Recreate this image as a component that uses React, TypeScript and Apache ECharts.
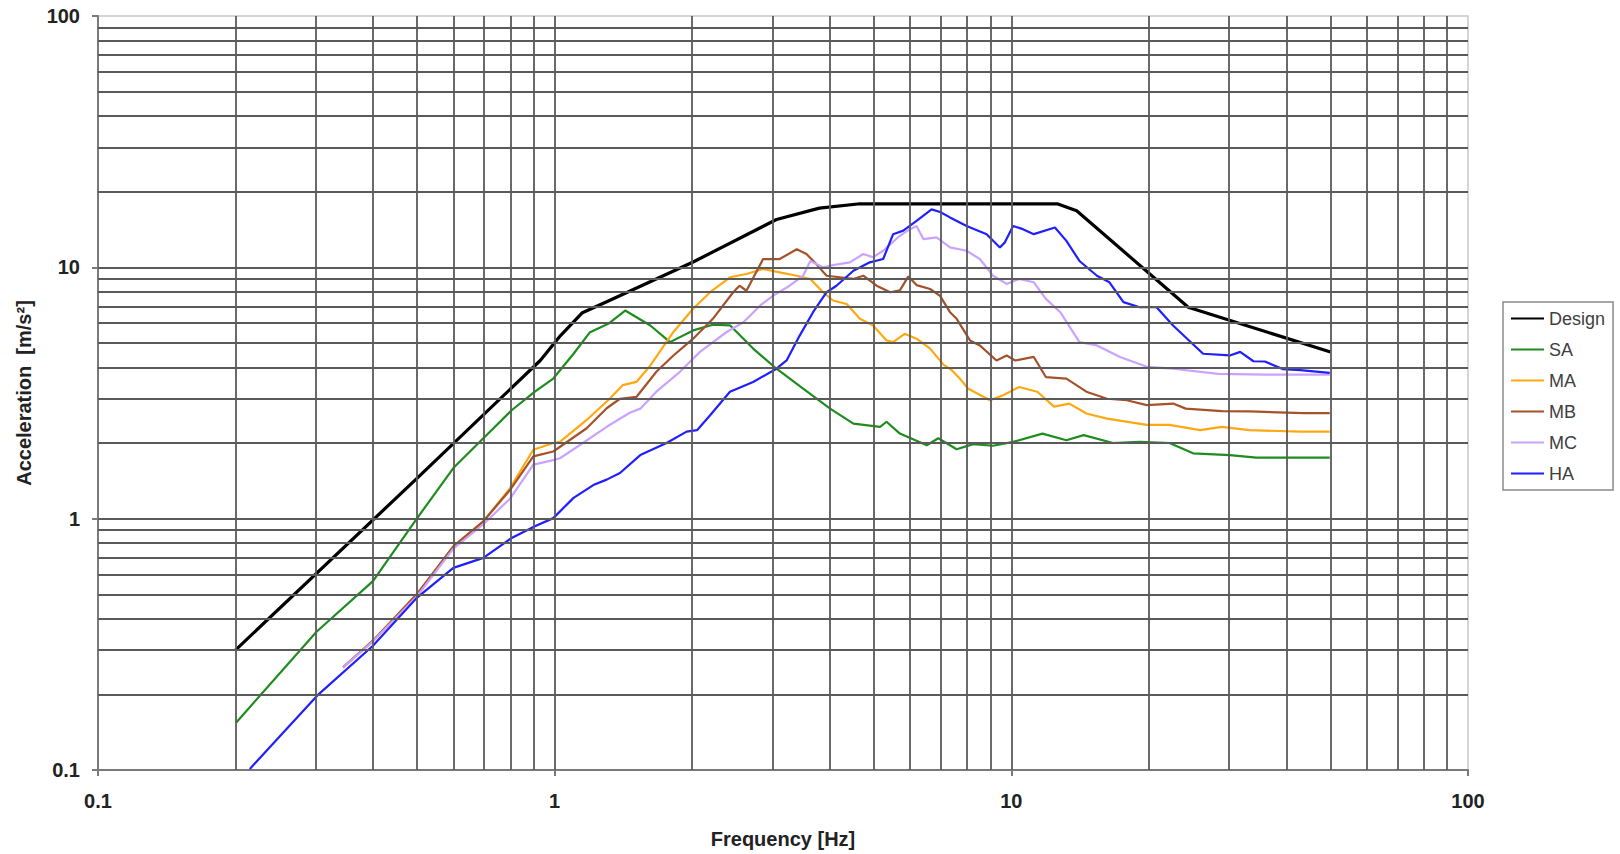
import React, { useEffect, useRef } from "react";
import * as echarts from "echarts";

// Frequency [Hz], Acceleration [m/s²] pairs
const design: [number, number][] = [
  [0.2, 0.3], [0.5, 1.45], [0.93, 4.26], [1.03, 5.35], [1.15, 6.6], [1.3, 7.3],
  [2.01, 10.5], [3.06, 15.5], [3.8, 17.2], [4.66, 17.9], [12.6, 17.9], [13.9, 16.8],
  [24.4, 6.94], [50, 4.6],
];

const sa: [number, number][] = [
  [0.201, 0.155], [0.301, 0.355], [0.4, 0.564], [0.499, 1.0], [0.6, 1.59], [0.698, 2.09],
  [0.805, 2.7], [0.905, 3.2], [0.993, 3.61], [1.1, 4.53], [1.195, 5.52], [1.31, 5.96],
  [1.427, 6.73], [1.62, 5.87], [1.789, 5.04], [2.01, 5.61], [2.22, 5.91], [2.42, 5.88],
  [2.72, 4.75], [3.06, 3.95], [3.5, 3.29], [4.01, 2.74], [4.51, 2.39], [5.16, 2.32],
  [5.33, 2.43], [5.7, 2.18], [6.53, 1.96], [6.92, 2.09], [7.59, 1.89], [8.25, 1.98],
  [9.12, 1.95], [10.09, 2.02], [11.7, 2.18], [13.2, 2.05], [14.4, 2.15], [16.7, 2.0],
  [19.1, 2.02], [22.2, 2.0], [25.0, 1.82], [30.1, 1.79], [34.4, 1.75], [42.9, 1.75],
  [49.8, 1.75],
];

const ma: [number, number][] = [
  [0.344, 0.256], [0.4, 0.327], [0.499, 0.5], [0.6, 0.776], [0.698, 0.976], [0.798, 1.32],
  [0.898, 1.88], [0.993, 2.0], [1.027, 2.02], [1.175, 2.47], [1.32, 3.0], [1.41, 3.4],
  [1.51, 3.5], [1.62, 4.07], [1.82, 5.53], [2.01, 6.84], [2.19, 7.96], [2.42, 9.13],
  [2.63, 9.41], [2.86, 9.85], [3.11, 9.55], [3.39, 9.26], [3.63, 8.99], [3.87, 7.96],
  [4.07, 7.38], [4.36, 7.15], [4.66, 6.24], [4.98, 5.87], [5.33, 5.12], [5.51, 5.04],
  [5.84, 5.44], [6.2, 5.2], [6.64, 4.75], [7.1, 4.1], [7.4, 3.9], [7.72, 3.6],
  [8.05, 3.29], [8.98, 2.96], [9.6, 3.1], [10.4, 3.34], [11.4, 3.2], [12.4, 2.79],
  [13.4, 2.87], [14.6, 2.62], [16.2, 2.5], [19.8, 2.36], [22.2, 2.36], [25.9, 2.25],
  [28.9, 2.32], [33.2, 2.25], [42.9, 2.22], [49.8, 2.22],
];

const mb: [number, number][] = [
  [0.344, 0.256], [0.4, 0.327], [0.499, 0.5], [0.6, 0.776], [0.698, 0.976], [0.798, 1.3],
  [0.898, 1.77], [0.993, 1.85], [1.175, 2.29], [1.3, 2.75], [1.39, 3.0], [1.51, 3.05],
  [1.67, 3.84], [1.82, 4.46], [2.01, 5.2], [2.22, 6.24], [2.46, 7.96], [2.54, 8.45],
  [2.63, 8.07], [2.86, 10.79], [3.11, 10.79], [3.39, 11.8], [3.56, 11.3], [3.74, 10.3],
  [3.94, 9.26], [4.21, 9.13], [4.51, 8.99], [4.74, 9.26], [5.07, 8.45], [5.43, 7.96],
  [5.7, 8.1], [5.95, 9.2], [6.2, 8.5], [6.64, 8.2], [6.98, 7.7], [7.34, 6.63],
  [7.59, 6.24], [8.12, 5.12], [8.53, 4.89], [9.28, 4.26], [9.77, 4.46], [10.2, 4.26],
  [11.2, 4.4], [11.9, 3.66], [13.2, 3.61], [14.6, 3.2], [16.2, 3.0], [17.9, 2.96],
  [19.8, 2.83], [22.6, 2.87], [24.1, 2.74], [28.9, 2.68], [33.2, 2.67], [43.6, 2.63],
  [49.8, 2.63],
];

const mc: [number, number][] = [
  [0.344, 0.256], [0.4, 0.325], [0.499, 0.49], [0.6, 0.76], [0.698, 0.95], [0.798, 1.2],
  [0.898, 1.64], [0.993, 1.71], [1.027, 1.74], [1.153, 2.0], [1.3, 2.32], [1.46, 2.64],
  [1.54, 2.74], [1.67, 3.2], [1.88, 3.84], [2.08, 4.61], [2.38, 5.53], [2.59, 6.05],
  [2.82, 7.05], [3.01, 7.72], [3.27, 8.45], [3.5, 9.26], [3.63, 10.6], [3.87, 10.0],
  [4.07, 10.2], [4.43, 10.47], [4.74, 11.3], [4.98, 10.96], [5.24, 11.64], [5.7, 13.35],
  [6.0, 14.19], [6.2, 14.6], [6.42, 12.95], [6.86, 13.15], [7.34, 12.0], [7.98, 11.64],
  [8.53, 10.79], [9.12, 9.26], [9.77, 8.59], [10.4, 8.99], [11.2, 8.72], [11.9, 7.49],
  [12.8, 6.63], [14.1, 5.04], [15.4, 4.89], [17.3, 4.4], [19.8, 4.02], [22.6, 3.95],
  [28.4, 3.77], [36.1, 3.74], [49.8, 3.74],
];

const ha: [number, number][] = [
  [0.215, 0.101], [0.304, 0.2], [0.4, 0.312], [0.499, 0.484], [0.6, 0.637], [0.698, 0.698],
  [0.805, 0.838], [0.905, 0.932], [0.993, 1.005], [1.1, 1.21], [1.215, 1.36], [1.3, 1.43],
  [1.39, 1.52], [1.54, 1.79], [1.758, 2.0], [1.945, 2.22], [2.05, 2.25], [2.19, 2.58],
  [2.42, 3.2], [2.72, 3.5], [3.06, 3.95], [3.22, 4.26], [3.44, 5.35], [3.68, 6.63],
  [3.94, 7.96], [4.14, 8.45], [4.51, 9.69], [4.9, 10.47], [5.24, 10.79], [5.51, 13.55],
  [5.8, 14.0], [6.2, 15.3], [6.69, 17.0], [6.98, 16.6], [7.34, 15.8], [7.98, 14.6],
  [8.83, 13.55], [9.44, 12.0], [9.68, 12.57], [10.09, 14.6], [10.6, 14.19], [11.2, 13.55],
  [12.46, 14.4], [13.2, 12.74], [14.1, 10.6], [15.4, 9.26], [16.4, 8.72], [17.6, 7.27],
  [19.1, 6.94], [20.8, 6.94], [22.6, 5.87], [26.3, 4.53], [30.1, 4.46], [31.7, 4.61],
  [33.9, 4.23], [35.9, 4.22], [39.4, 3.93], [42.9, 3.9], [49.8, 3.8],
];

// log-paper grid values (decade mantissas)
const mantissas = [1, 2, 3, 4, 5, 6, 7, 8, 9];
const decades = [0.1, 1, 10];
const gridValues = decades
  .flatMap((d) => mantissas.map((m) => +(m * d).toFixed(2)))
  .filter((v) => v > 0.1 && v < 100);

const seriesDefs = [
  { name: "Design", data: design, color: "#000000", width: 3.2 },
  { name: "SA", data: sa, color: "#1e8c1e", width: 2.2 },
  { name: "MA", data: ma, color: "#ffa812", width: 2.2 },
  { name: "MB", data: mb, color: "#a5522a", width: 2.2 },
  { name: "MC", data: mc, color: "#c9a3ff", width: 2.2 },
  { name: "HA", data: ha, color: "#1f1fff", width: 2.2 },
];

export default function App() {
  const ref = useRef<HTMLDivElement>(null);
  useEffect(() => {
    document.body.style.margin = "0";
    if (!ref.current) return;
    const chart = echarts.init(ref.current, null, { renderer: "svg" });
    const labelFont = { fontFamily: "Liberation Sans", fontWeight: "bold" as const, fontSize: 20, color: "#222" };
    chart.setOption({
      animation: false,
      backgroundColor: "#ffffff",
      grid: { left: 98, right: 152, top: 16, bottom: 81, show: true, borderColor: "#c8c8c8", borderWidth: 1.5 },
      legend: {
        orient: "vertical",
        left: 1503,
        top: 302,
        data: seriesDefs.map((s) => s.name),
        itemWidth: 33,
        itemHeight: 14,
        itemGap: 10,
        padding: [6, 8, 6, 7],
        borderColor: "#8a8a8a",
        borderWidth: 1.5,
        itemStyle: { opacity: 0 },
        textStyle: { fontFamily: "Liberation Sans", fontSize: 18, color: "#404040", lineHeight: 21 },
      },
      xAxis: {
        type: "log",
        logBase: 10,
        min: 0.1,
        max: 100,
        name: "Frequency [Hz]",
        nameLocation: "middle",
        nameGap: 59,
        nameTextStyle: labelFont,
        axisLine: { lineStyle: { color: "#7a7a7a", width: 2 } },
        axisTick: { show: true, length: 6, lineStyle: { color: "#7a7a7a", width: 2 } },
        axisLabel: { ...labelFont, margin: 21, formatter: (v: number) => String(v) },
        splitLine: { show: false },
      },
      yAxis: {
        type: "log",
        logBase: 10,
        min: 0.1,
        max: 100,
        name: "Acceleration  [m/s²]",
        nameLocation: "middle",
        nameGap: 64,
        nameRotate: 90,
        nameTextStyle: labelFont,
        axisLine: { lineStyle: { color: "#7a7a7a", width: 2 } },
        axisTick: { show: true, length: 6, lineStyle: { color: "#7a7a7a", width: 2 } },
        axisLabel: { ...labelFont, margin: 18, formatter: (v: number) => String(v) },
        splitLine: { show: false },
      },
      series: [
        {
          name: "grid",
          type: "line",
          data: [],
          silent: true,
          z: 1,
          markLine: {
            silent: true,
            symbol: ["none", "none"],
            label: { show: false },
            lineStyle: { color: "#5a5a5a", width: 1.8, type: "solid" },
            data: [
              ...gridValues.map((v) => ({ xAxis: v })),
              ...gridValues.map((v) => ({ yAxis: v })),
            ],
          },
        },
        ...seriesDefs.map((s) => ({
          name: s.name,
          type: "line",
          data: s.data,
          symbol: "none",
          showSymbol: false,
          z: 3,
          color: s.color,
          lineStyle: { color: s.color, width: s.width },
        })),
      ],
    });
    return () => chart.dispose();
  }, []);
  return <div ref={ref} style={{ width: 1620, height: 854 }} />;
}
